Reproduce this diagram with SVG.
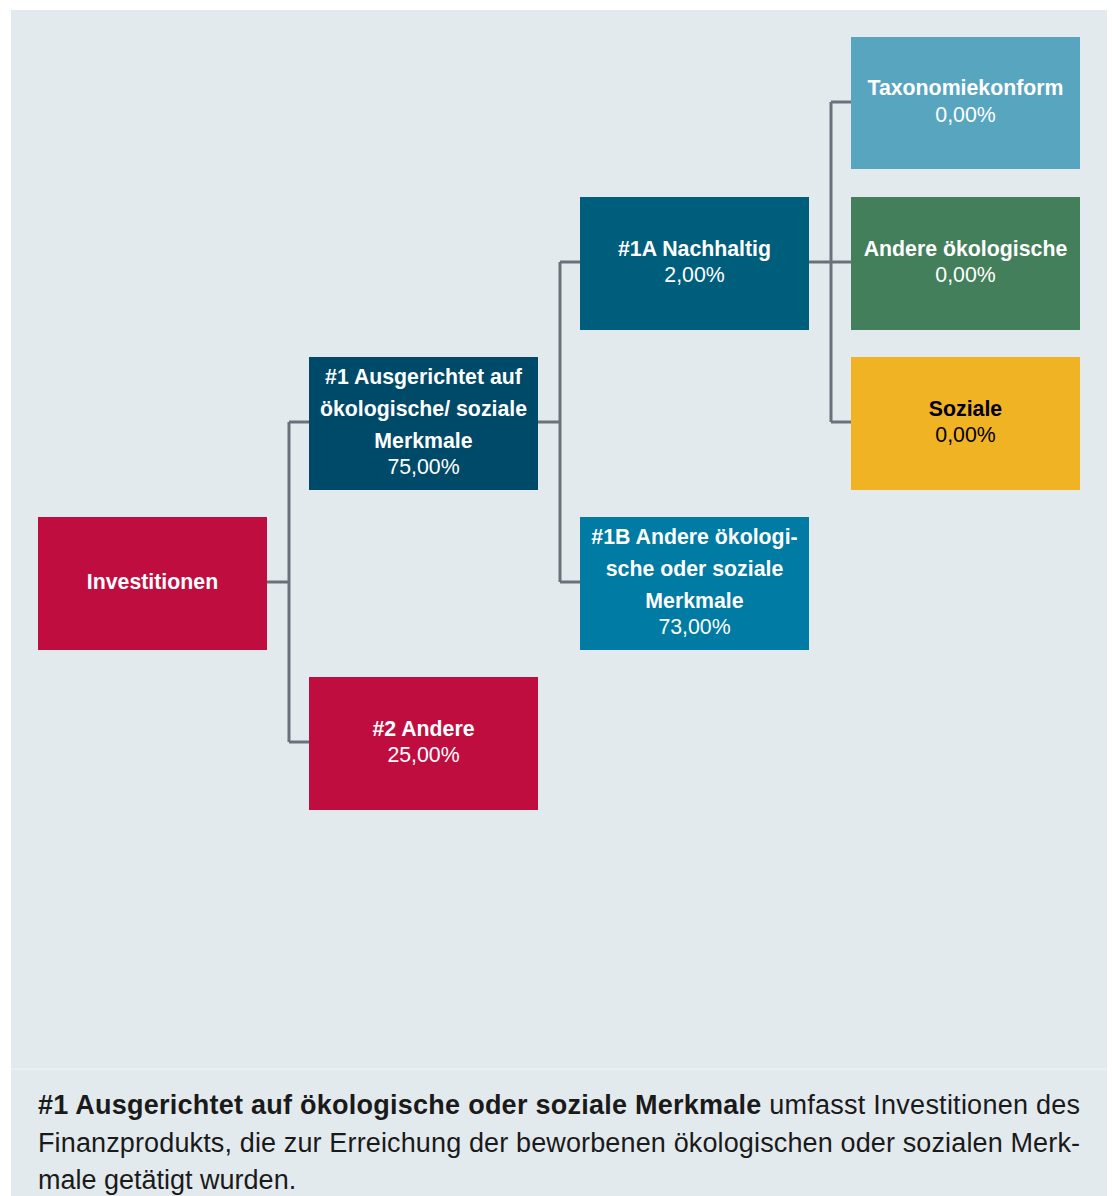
<svg xmlns="http://www.w3.org/2000/svg" width="1112" height="1196" viewBox="0 0 1112 1196">
<style>
.box{stroke:none}
.t{font-family:"Liberation Sans",Arial,sans-serif;font-size:21.3px;text-anchor:middle;fill:#fff}
.b{font-weight:bold}
.dark{fill:#000}
.conn{fill:none;stroke:#6b717a;stroke-width:3}
.foot{font-family:"Liberation Sans",Arial,sans-serif;font-size:27px;fill:#1a1a1a}
</style>
<rect x="0" y="0" width="1112" height="1196" fill="#fff"/>
<rect x="11" y="10" width="1096" height="1186" fill="#e3eaee"/>
<line x1="11" y1="1069" x2="1107" y2="1069" stroke="#ecf1f4" stroke-width="1.5"/>
<g id="connectors">
<path class="conn" d="M267 582H289M289 422V742M289 422H309M289 742H309"/>
<path class="conn" d="M538 422H560M560 262V582M560 262H580M560 582H580"/>
<path class="conn" d="M809 262H831M831 102V422M831 102H851M831 262H851M831 422H851"/>
</g>
<g id="investitionen">
<rect class="box" x="38" y="517" width="229" height="133" fill="#c00d3f"/>
<text class="t b" x="152.5" y="589">Investitionen</text>
</g>
<g id="n1">
<rect class="box" x="309" y="357" width="229" height="133" fill="#004a69"/>
<text class="t b" x="423.5" y="384">#1 Ausgerichtet auf</text>
<text class="t b" x="423.5" y="416">ökologische/ soziale</text>
<text class="t b" x="423.5" y="448">Merkmale</text>
<text class="t" x="423.5" y="474">75,00%</text>
</g>
<g id="n2">
<rect class="box" x="309" y="677" width="229" height="133" fill="#c00d3f"/>
<text class="t b" x="423.5" y="736">#2 Andere</text>
<text class="t" x="423.5" y="762">25,00%</text>
</g>
<g id="n1a">
<rect class="box" x="580" y="197" width="229" height="133" fill="#005e7d"/>
<text class="t b" x="694.5" y="256">#1A Nachhaltig</text>
<text class="t" x="694.5" y="282">2,00%</text>
</g>
<g id="n1b">
<rect class="box" x="580" y="517" width="229" height="133" fill="#007ba3"/>
<text class="t b" x="694.5" y="544">#1B Andere ökologi-</text>
<text class="t b" x="694.5" y="576">sche oder soziale</text>
<text class="t b" x="694.5" y="608">Merkmale</text>
<text class="t" x="694.5" y="634">73,00%</text>
</g>
<g id="taxonomie">
<rect class="box" x="851" y="37" width="229" height="132" fill="#58a5c0"/>
<text class="t b" x="965.5" y="95">Taxonomiekonform</text>
<text class="t" x="965.5" y="122">0,00%</text>
</g>
<g id="andere-oeko">
<rect class="box" x="851" y="197" width="229" height="133" fill="#447f5b"/>
<text class="t b" x="965.5" y="256">Andere ökologische</text>
<text class="t" x="965.5" y="282">0,00%</text>
</g>
<g id="soziale">
<rect class="box" x="851" y="357" width="229" height="133" fill="#f0b323"/>
<text class="t b dark" x="965.5" y="416">Soziale</text>
<text class="t dark" x="965.5" y="442">0,00%</text>
</g>
<g id="footnote">
<text class="foot" x="38" y="1114" textLength="1042"><tspan font-weight="bold">#1 Ausgerichtet auf ökologische oder soziale Merkmale</tspan> umfasst Investitionen des</text>
<text class="foot" x="38" y="1152" textLength="1042">Finanzprodukts, die zur Erreichung der beworbenen ökologischen oder sozialen Merk-</text>
<text class="foot" x="38" y="1189">male getätigt wurden.</text>
</g>
</svg>
